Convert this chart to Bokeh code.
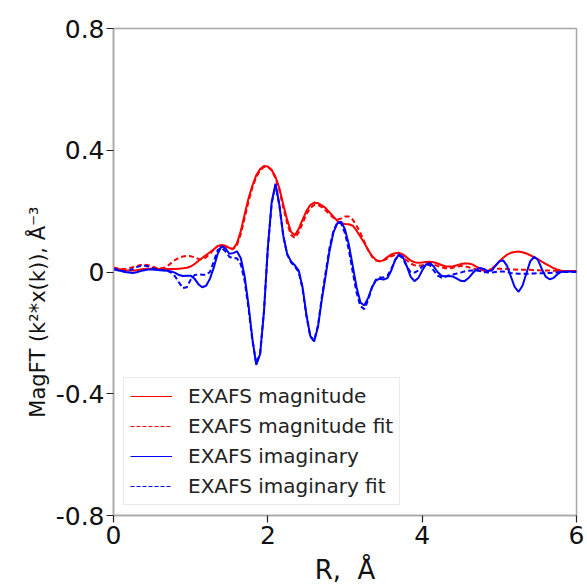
from bokeh.plotting import figure
from bokeh.models import FixedTicker, Legend, LegendItem, Title
from bokeh.embed import file_html
from bokeh.resources import INLINE

R = [0.00, 0.05, 0.10, 0.15, 0.20, 0.25, 0.30, 0.35, 0.40, 0.45,
     0.50, 0.55, 0.60, 0.65, 0.70, 0.75, 0.80, 0.85, 0.90, 0.95,
     1.00, 1.05, 1.10, 1.15, 1.20, 1.25, 1.30, 1.35, 1.40, 1.45,
     1.50, 1.55, 1.60, 1.65, 1.70, 1.75, 1.80, 1.85, 1.90, 1.95,
     2.00, 2.05, 2.10, 2.15, 2.20, 2.25, 2.30, 2.35, 2.40, 2.45,
     2.50, 2.55, 2.60, 2.65, 2.70, 2.75, 2.80, 2.85, 2.90, 2.95,
     3.00, 3.05, 3.10, 3.15, 3.20, 3.25, 3.30, 3.35, 3.40, 3.45,
     3.50, 3.55, 3.60, 3.65, 3.70, 3.75, 3.80, 3.85, 3.90, 3.95,
     4.00, 4.05, 4.10, 4.15, 4.20, 4.25, 4.30, 4.35, 4.40, 4.45,
     4.50, 4.55, 4.60, 4.65, 4.70, 4.75, 4.80, 4.85, 4.90, 4.95,
     5.00, 5.05, 5.10, 5.15, 5.20, 5.25, 5.30, 5.35, 5.40, 5.45,
     5.50, 5.55, 5.60, 5.65, 5.70, 5.75, 5.80, 5.85, 5.90, 5.95,
     6.00]

mag = [0.012, 0.010, 0.008, 0.006, 0.005, 0.005, 0.006, 0.008, 0.010, 0.011,
       0.011, 0.010, 0.010, 0.010, 0.010, 0.010, 0.010, 0.011, 0.012, 0.014,
       0.018, 0.026, 0.036, 0.046, 0.056, 0.065, 0.075, 0.085, 0.089, 0.086,
       0.079, 0.076, 0.094, 0.135, 0.190, 0.242, 0.284, 0.318, 0.338, 0.348,
       0.347, 0.335, 0.312, 0.275, 0.222, 0.172, 0.132, 0.121, 0.142, 0.172,
       0.200, 0.220, 0.228, 0.226, 0.219, 0.210, 0.196, 0.182, 0.168, 0.160,
       0.158, 0.157, 0.152, 0.136, 0.116, 0.095, 0.072, 0.053, 0.040, 0.035,
       0.039, 0.049, 0.058, 0.062, 0.063, 0.058, 0.048, 0.038, 0.032, 0.030,
       0.031, 0.033, 0.034, 0.032, 0.028, 0.023, 0.019, 0.018, 0.019, 0.022,
       0.026, 0.028, 0.028, 0.025, 0.018, 0.011, 0.005, 0.003, 0.010, 0.022,
       0.035, 0.047, 0.057, 0.063, 0.066, 0.067, 0.065, 0.061, 0.055, 0.049,
       0.042, 0.034, 0.027, 0.020, 0.013, 0.008, 0.004, 0.003, 0.003, 0.003,
       0.003]

mag_fit = [0.015, 0.012, 0.010, 0.010, 0.012, 0.016, 0.020, 0.023, 0.024, 0.022,
           0.018, 0.014, 0.012, 0.014, 0.020, 0.030, 0.040, 0.047, 0.051, 0.053,
           0.052, 0.048, 0.043, 0.042, 0.048, 0.060, 0.074, 0.085, 0.088, 0.085,
           0.078, 0.075, 0.088, 0.125, 0.178, 0.232, 0.278, 0.312, 0.334, 0.345,
           0.345, 0.334, 0.308, 0.268, 0.212, 0.160, 0.122, 0.112, 0.130, 0.160,
           0.190, 0.210, 0.220, 0.220, 0.213, 0.202, 0.190, 0.178, 0.172, 0.176,
           0.182, 0.182, 0.172, 0.152, 0.128, 0.100, 0.072, 0.050, 0.038, 0.035,
           0.038, 0.045, 0.052, 0.056, 0.055, 0.048, 0.038, 0.028, 0.022, 0.020,
           0.022, 0.025, 0.026, 0.024, 0.020, 0.015, 0.012, 0.012, 0.014, 0.018,
           0.020, 0.019, 0.016, 0.012, 0.008, 0.006, 0.006, 0.007, 0.008, 0.010,
           0.011, 0.011, 0.010, 0.009, 0.008, 0.007, 0.007, 0.007, 0.007, 0.006,
           0.006, 0.005, 0.005, 0.005, 0.004, 0.004, 0.003, 0.003, 0.003, 0.003,
           0.003]

imag = [0.008, 0.006, 0.003, 0.000, -0.002, -0.003, -0.001, 0.003, 0.006, 0.008,
        0.008, 0.007, 0.006, 0.005, 0.004, 0.002, -0.003, -0.010, -0.013, -0.012,
        -0.012, -0.022, -0.040, -0.050, -0.045, -0.022, 0.015, 0.060, 0.085, 0.078,
        0.060, 0.062, 0.068, 0.045, -0.015, -0.110, -0.220, -0.305, -0.270, -0.130,
        0.080, 0.230, 0.290, 0.220, 0.120, 0.060, 0.035, 0.022, 0.005, -0.050,
        -0.140, -0.210, -0.228, -0.180, -0.090, -0.010, 0.070, 0.130, 0.160, 0.165,
        0.140, 0.090, 0.020, -0.050, -0.100, -0.110, -0.085, -0.050, -0.028, -0.022,
        -0.025, -0.020, 0.005, 0.040, 0.058, 0.050, 0.020, -0.015, -0.030, -0.020,
        0.005, 0.025, 0.030, 0.018, 0.000, -0.012, -0.015, -0.013, -0.015, -0.022,
        -0.029, -0.030, -0.020, -0.005, 0.008, 0.013, 0.010, 0.003, 0.005, 0.020,
        0.035, 0.038, 0.020, -0.015, -0.050, -0.065, -0.045, -0.005, 0.035, 0.050,
        0.040, 0.010, -0.015, -0.024, -0.020, -0.008, 0.000, 0.002, 0.002, 0.001,
        0.001]

imag_fit = [0.012, 0.008, 0.004, 0.002, 0.004, 0.010, 0.016, 0.020, 0.021, 0.018,
            0.013, 0.009, 0.007, 0.006, 0.004, -0.003, -0.015, -0.035, -0.053, -0.050,
            -0.025, -0.010, -0.008, -0.009, -0.009, 0.000, 0.035, 0.072, 0.080, 0.068,
            0.050, 0.045, 0.045, 0.025, -0.030, -0.120, -0.225, -0.300, -0.268, -0.128,
            0.078, 0.225, 0.287, 0.218, 0.118, 0.058, 0.032, 0.018, 0.000, -0.055,
            -0.145, -0.212, -0.226, -0.175, -0.082, 0.000, 0.080, 0.135, 0.162, 0.160,
            0.128, 0.072, 0.000, -0.068, -0.112, -0.122, -0.092, -0.050, -0.025, -0.018,
            -0.018, -0.012, 0.010, 0.040, 0.055, 0.045, 0.018, 0.000, -0.002, 0.005,
            0.018, 0.026, 0.022, 0.005, -0.012, -0.018, -0.015, -0.011, -0.008, -0.005,
            -0.002, 0.002, 0.004, 0.005, 0.005, 0.003, 0.000, -0.002, -0.002, 0.000,
            0.002, 0.002, 0.000, -0.003, -0.005, -0.006, -0.006, -0.006, -0.005, -0.005,
            -0.004, -0.004, -0.003, -0.003, -0.002, -0.001, 0.000, 0.000, 0.000, 0.000,
            0.000]

labels = ["EXAFS magnitude", "EXAFS magnitude fit", "EXAFS imaginary", "EXAFS imaginary fit"]
x_ticks = [0, 2, 4, 6]
y_ticks = [-0.8, -0.4, 0, 0.4, 0.8]
y_tick_labels = {-0.8: "-0.8", -0.4: "-0.4", 0: "0", 0.4: "0.4", 0.8: "0.8"}
x_title = "R,\u00a0\u00a0Å"
y_title = "MagFT (k²*x(k)), Å⁻³"

FONT = "DejaVu Sans"
RED = "#ff0000"
BLUE = "#0000ff"

p = figure(width=584, height=587, x_range=(0, 6), y_range=(-0.8, 0.8),
           output_backend="svg", toolbar_location=None,
           min_border_left=113, min_border_right=8, min_border_top=28, min_border_bottom=69)

p.line(R, mag, line_color=RED, line_width=2)
p.line(R, mag_fit, line_color=RED, line_width=2, line_dash="5 3")
p.line(R, imag, line_color=BLUE, line_width=2)
p.line(R, imag_fit, line_color=BLUE, line_width=2, line_dash="5 3")

# thin single-point stand-ins (draw nothing) used only for the legend swatches
k1 = p.line([0], [0], line_color=RED, line_width=1.2)
k2 = p.line([0], [0], line_color=RED, line_width=1.2, line_dash="4 2")
k3 = p.line([0], [0], line_color=BLUE, line_width=1.2)
k4 = p.line([0], [0], line_color=BLUE, line_width=1.2, line_dash="4 2")

legend = Legend(items=[LegendItem(label=labels[0], renderers=[k1]),
                       LegendItem(label=labels[1], renderers=[k2]),
                       LegendItem(label=labels[2], renderers=[k3]),
                       LegendItem(label=labels[3], renderers=[k4])],
                location="bottom_left", margin=10)
legend.label_text_font = FONT
legend.label_text_font_size = "20px"
legend.label_text_color = "#222222"
legend.glyph_width = 42
legend.glyph_height = 20
legend.label_height = 20
legend.spacing = 6
legend.padding = 6
legend.label_standoff = 16
legend.border_line_color = "#d8d8d8"
legend.background_fill_alpha = 0.8
p.add_layout(legend)

p.grid.visible = False
p.outline_line_color = "#a8a8a8"
p.outline_line_width = 1.5

p.xaxis.ticker = FixedTicker(ticks=x_ticks)
p.yaxis.ticker = FixedTicker(ticks=y_ticks)
p.yaxis.major_label_overrides = y_tick_labels

for ax in (p.xaxis, p.yaxis):
    ax.axis_line_color = "#a8a8a8"
    ax.axis_line_width = 1.5
    ax.major_tick_line_color = "#222222"
    ax.major_tick_line_width = 1.2
    ax.major_tick_in = 0
    ax.major_tick_out = 7
    ax.minor_tick_line_color = None
    ax.major_label_text_font = FONT
    ax.major_label_text_font_size = "25px"
    ax.major_label_text_color = "#111111"

p.xaxis.axis_label = x_title
p.xaxis.axis_label_text_font = FONT
p.xaxis.axis_label_text_font_style = "normal"
p.xaxis.axis_label_text_color = "#111111"
p.xaxis.axis_label_text_font_size = "26px"
p.xaxis.major_label_standoff = 3
p.xaxis.axis_label_standoff = 8
p.yaxis.major_label_standoff = 2

# vertical y-axis title in the left panel; trailing no-break spaces re-centre
# the visible text on the frame
ytitle = Title(text=y_title + "\u00a0" * 12, align="center", text_font=FONT,
               text_font_size="21px", text_font_style="normal",
               text_color="#111111", standoff=6)
p.add_layout(ytitle, "left")

open("out.html", "w").write(file_html(p, INLINE))
